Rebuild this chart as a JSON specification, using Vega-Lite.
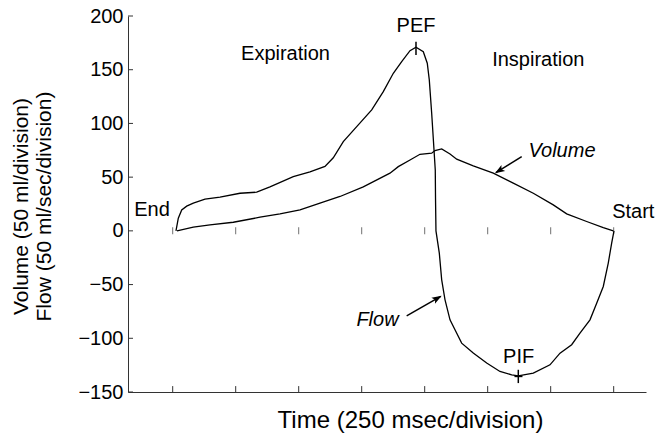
{
  "$schema": "https://vega.github.io/schema/vega-lite/v6.json",
  "width": 518,
  "height": 376,
  "autosize": "none",
  "padding": {"left": 128, "top": 16, "right": 13, "bottom": 41},
  "background": "white",
  "config": {"view": {"stroke": null}, "font": "Liberation Sans"},
  "datasets": {
    "curves": [
      {"s": "flow", "t": 0.052, "v": 0},
      {"s": "flow", "t": 0.089, "v": 11.8},
      {"s": "flow", "t": 0.143, "v": 19.5},
      {"s": "flow", "t": 0.222, "v": 23},
      {"s": "flow", "t": 0.327, "v": 25.8},
      {"s": "flow", "t": 0.513, "v": 29.5},
      {"s": "flow", "t": 0.751, "v": 31.3},
      {"s": "flow", "t": 1.068, "v": 35},
      {"s": "flow", "t": 1.333, "v": 36},
      {"s": "flow", "t": 1.544, "v": 41},
      {"s": "flow", "t": 1.914, "v": 50.5},
      {"s": "flow", "t": 2.179, "v": 55},
      {"s": "flow", "t": 2.417, "v": 60},
      {"s": "flow", "t": 2.549, "v": 68},
      {"s": "flow", "t": 2.708, "v": 83},
      {"s": "flow", "t": 2.921, "v": 97},
      {"s": "flow", "t": 3.159, "v": 112.6},
      {"s": "flow", "t": 3.343, "v": 129.6},
      {"s": "flow", "t": 3.502, "v": 146.7},
      {"s": "flow", "t": 3.635, "v": 157.5},
      {"s": "flow", "t": 3.767, "v": 167.7},
      {"s": "flow", "t": 3.862, "v": 170.9},
      {"s": "flow", "t": 3.978, "v": 166.8},
      {"s": "flow", "t": 4.041, "v": 156},
      {"s": "flow", "t": 4.073, "v": 140.5},
      {"s": "flow", "t": 4.111, "v": 109.5},
      {"s": "flow", "t": 4.148, "v": 75.3},
      {"s": "flow", "t": 4.168, "v": 56.7},
      {"s": "flow", "t": 4.172, "v": 30},
      {"s": "flow", "t": 4.179, "v": 0},
      {"s": "flow", "t": 4.232, "v": -20.7},
      {"s": "flow", "t": 4.27, "v": -45.6},
      {"s": "flow", "t": 4.322, "v": -64},
      {"s": "flow", "t": 4.402, "v": -82.8},
      {"s": "flow", "t": 4.481, "v": -92},
      {"s": "flow", "t": 4.587, "v": -104.5},
      {"s": "flow", "t": 4.771, "v": -113.8},
      {"s": "flow", "t": 4.984, "v": -123},
      {"s": "flow", "t": 5.195, "v": -130.9},
      {"s": "flow", "t": 5.381, "v": -134},
      {"s": "flow", "t": 5.486, "v": -134.9},
      {"s": "flow", "t": 5.724, "v": -132.4},
      {"s": "flow", "t": 5.989, "v": -124.7},
      {"s": "flow", "t": 6.148, "v": -113.8},
      {"s": "flow", "t": 6.333, "v": -106},
      {"s": "flow", "t": 6.465, "v": -95.2},
      {"s": "flow", "t": 6.624, "v": -82.8},
      {"s": "flow", "t": 6.73, "v": -67.3},
      {"s": "flow", "t": 6.835, "v": -51.8},
      {"s": "flow", "t": 6.914, "v": -30},
      {"s": "flow", "t": 6.968, "v": -11.4},
      {"s": "flow", "t": 7.005, "v": 0},
      {"s": "volume", "t": 0.068, "v": 0},
      {"s": "volume", "t": 0.327, "v": 3.4},
      {"s": "volume", "t": 0.592, "v": 5.6},
      {"s": "volume", "t": 0.962, "v": 8},
      {"s": "volume", "t": 1.386, "v": 12.7},
      {"s": "volume", "t": 1.703, "v": 15.8},
      {"s": "volume", "t": 2.021, "v": 19.5},
      {"s": "volume", "t": 2.338, "v": 25.8},
      {"s": "volume", "t": 2.656, "v": 32},
      {"s": "volume", "t": 3.025, "v": 41},
      {"s": "volume", "t": 3.449, "v": 53.7},
      {"s": "volume", "t": 3.581, "v": 59.8},
      {"s": "volume", "t": 3.767, "v": 66},
      {"s": "volume", "t": 3.925, "v": 71.3},
      {"s": "volume", "t": 4.111, "v": 72.3},
      {"s": "volume", "t": 4.163, "v": 74.7},
      {"s": "volume", "t": 4.27, "v": 76.3},
      {"s": "volume", "t": 4.402, "v": 71.6},
      {"s": "volume", "t": 4.508, "v": 66.7},
      {"s": "volume", "t": 4.771, "v": 60.5},
      {"s": "volume", "t": 5.089, "v": 53.7},
      {"s": "volume", "t": 5.406, "v": 44.4},
      {"s": "volume", "t": 5.724, "v": 35},
      {"s": "volume", "t": 6.041, "v": 24.2},
      {"s": "volume", "t": 6.254, "v": 15.8},
      {"s": "volume", "t": 6.571, "v": 8.7},
      {"s": "volume", "t": 6.835, "v": 3},
      {"s": "volume", "t": 6.994, "v": 0}
    ],
    "xticks": [
      {"t": 0}, {"t": 1}, {"t": 2}, {"t": 3}, {"t": 4}, {"t": 5}, {"t": 6}, {"t": 7}
    ],
    "yticks": [
      {"v": -150}, {"v": -100}, {"v": -50}, {"v": 0}, {"v": 50}, {"v": 100}, {"v": 150}, {"v": 200}
    ],
    "labels": [
      {"t": 3.862, "v": 184.8, "text": "PEF"},
      {"t": 1.791, "v": 159.1, "text": "Expiration"},
      {"t": 5.803, "v": 153.5, "text": "Inspiration"},
      {"t": -0.329, "v": 14, "text": "End"},
      {"t": 7.311, "v": 11.8, "text": "Start"},
      {"t": 5.492, "v": -123, "text": "PIF"}
    ],
    "italics": [
      {"t": 6.179, "v": 69.1, "text": "Volume"},
      {"t": 3.251, "v": -89, "text": "Flow"}
    ],
    "segs": [
      {"t1": 3.862, "v1": 176, "t2": 3.862, "v2": 163.7},
      {"t1": 5.486, "v1": -129.3, "t2": 5.486, "v2": -141.7},
      {"t1": 5.425, "v1": -135.5, "t2": 5.552, "v2": -135.5},
      {"t1": 5.54, "v1": 69.1, "t2": 5.13, "v2": 54.2},
      {"t1": 3.714, "v1": -79.1, "t2": 4.255, "v2": -61}
    ],
    "heads": [
      {"t": 5.116, "v": 53.7, "a": 238},
      {"t": 4.27, "v": -60.5, "a": 60}
    ]
  },
  "layer": [
    {
      "mark": {"type": "rule", "color": "#333", "strokeWidth": 1},
      "encoding": {"y": {"datum": 0, "type": "quantitative"}}
    },
    {
      "data": {"name": "xticks"},
      "mark": {"type": "tick", "orient": "vertical", "size": 7, "thickness": 1, "color": "#333"},
      "encoding": {
        "x": {"field": "t", "type": "quantitative"},
        "y": {"datum": 0, "type": "quantitative"}
      }
    },
    {
      "data": {"name": "xticks"},
      "mark": {"type": "rule", "color": "#333", "strokeWidth": 1},
      "encoding": {
        "x": {"field": "t", "type": "quantitative"},
        "y": {"datum": -150, "type": "quantitative"},
        "y2": {"datum": -144.5}
      }
    },
    {
      "data": {"name": "yticks"},
      "mark": {"type": "rule", "color": "#333", "strokeWidth": 1},
      "encoding": {
        "y": {"field": "v", "type": "quantitative"},
        "x": {"datum": -0.7095, "type": "quantitative"},
        "x2": {"datum": -0.63}
      }
    },
    {
      "data": {"name": "curves"},
      "mark": {"type": "line", "color": "black", "strokeWidth": 1.3},
      "encoding": {
        "x": {
          "field": "t",
          "type": "quantitative",
          "scale": {"domain": [-0.7095, 7.513], "nice": false, "zero": false},
          "axis": {
            "values": [0, 1, 2, 3, 4, 5, 6, 7],
            "labels": false,
            "ticks": false,
            "grid": false,
            "domainColor": "#333",
            "title": "Time (250 msec/division)",
            "titleFontSize": 24,
            "titleFontWeight": "normal",
            "titleColor": "black",
            "titleX": 282,
            "titleY": 35,
            "titleAlign": "center",
            "titleBaseline": "alphabetic"
          }
        },
        "y": {
          "field": "v",
          "type": "quantitative",
          "scale": {"domain": [-150, 200], "nice": false, "zero": false},
          "axis": {
            "values": [-150, -100, -50, 0, 50, 100, 150, 200],
            "grid": false,
            "ticks": false,
            "domainColor": "#333",
            "labelFontSize": 20,
            "labelColor": "black",
            "labelPadding": 5,
            "labelExpr": "datum.value < 0 ? '\u2212' + (-datum.value) : datum.label",
            "title": ["Volume (50 ml/division)", "Flow (50 ml/sec/division)"],
            "titleFontSize": 21,
            "titleFontWeight": "normal",
            "titleColor": "black",
            "titleAngle": -90,
            "titleX": -118,
            "titleY": 190,
            "titleAlign": "center",
            "titleBaseline": "top",
            "titleLineHeight": 23
          }
        },
        "detail": {"field": "s"}
      }
    },
    {
      "data": {"name": "labels"},
      "mark": {"type": "text", "fontSize": 20, "align": "center", "baseline": "alphabetic", "color": "black"},
      "encoding": {
        "x": {"field": "t", "type": "quantitative"},
        "y": {"field": "v", "type": "quantitative"},
        "text": {"field": "text"}
      }
    },
    {
      "data": {"name": "italics"},
      "mark": {"type": "text", "fontSize": 20, "fontStyle": "italic", "align": "center", "baseline": "alphabetic", "color": "black"},
      "encoding": {
        "x": {"field": "t", "type": "quantitative"},
        "y": {"field": "v", "type": "quantitative"},
        "text": {"field": "text"}
      }
    },
    {
      "data": {"name": "segs"},
      "mark": {"type": "rule", "color": "black", "strokeWidth": 1.5},
      "encoding": {
        "x": {"field": "t1", "type": "quantitative"},
        "y": {"field": "v1", "type": "quantitative"},
        "x2": {"field": "t2"},
        "y2": {"field": "v2"}
      }
    },
    {
      "data": {"name": "heads"},
      "mark": {"type": "point", "shape": "M0,0L-0.8,2.2L0,1.7L0.8,2.2Z", "filled": true, "color": "black", "opacity": 1, "size": 80},
      "encoding": {
        "x": {"field": "t", "type": "quantitative"},
        "y": {"field": "v", "type": "quantitative"},
        "angle": {"field": "a", "type": "quantitative", "scale": null}
      }
    }
  ]
}
